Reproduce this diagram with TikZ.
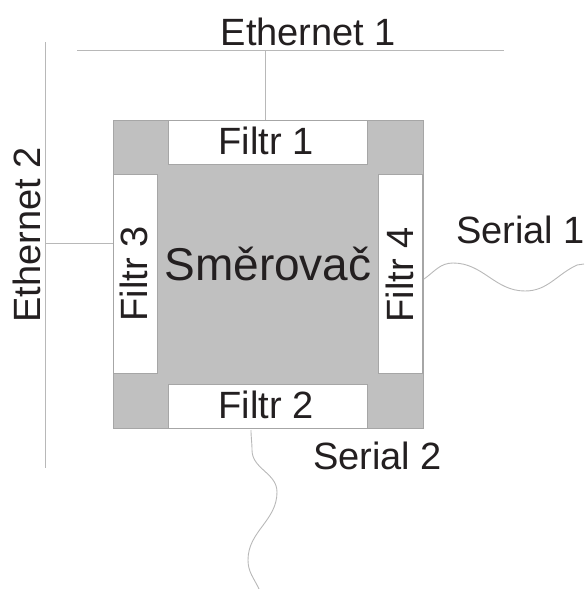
\documentclass[tikz,border=0pt]{standalone}
\usepackage{fontspec}
\setmainfont{Liberation Sans}
\definecolor{boxgray}{HTML}{C0C0C0}
\definecolor{edgegray}{HTML}{A6A6A6}
\definecolor{wiregray}{HTML}{B8B8B8}
\definecolor{ink}{HTML}{231F20}
\begin{document}
\begin{tikzpicture}[x=1pt,y=1pt,
  router/.style={draw=edgegray,line width=0.8pt,fill=boxgray,minimum width=310pt,minimum height=308pt,inner sep=0pt},
  filterh/.style={draw=edgegray,line width=0.6pt,fill=white,minimum width=199pt,minimum height=44pt,inner sep=0pt},
  filterv/.style={draw=edgegray,line width=0.6pt,fill=white,minimum width=44pt,minimum height=199pt,inner sep=0pt},
  lbl/.style={text=ink,font=\fontsize{38}{40}\selectfont,inner sep=0pt},
  wire/.style={draw=wiregray,line width=0.9pt}]
\useasboundingbox (0,0) rectangle (584,-589);
% router body and filters
\node[router] (r) at (268,-274) {};
\node[filterh] (f1) at (267.5,-142) {};
\node[filterh] (f2) at (267.5,-406) {};
\node[filterv] (f3) at (135,-273.5) {};
\node[filterv] (f4) at (400.5,-273.5) {};
% labels
\node[lbl,font=\fontsize{46}{48}\selectfont,anchor=base] (rl) at (268,-280) {Směrovač};
\node[lbl,anchor=base] (f1l) at (266,-154) {Filtr 1};
\node[lbl,anchor=base] (f2l) at (266,-418) {Filtr 2};
\node[lbl,anchor=base,rotate=90] (f3l) at (147,-274) {Filtr 3};
\node[lbl,anchor=base,rotate=90] (f4l) at (413,-275) {Filtr 4};
\node[lbl,anchor=base] (e1l) at (308.5,-45) {Ethernet 1};
\node[lbl,anchor=base,rotate=90] (e2l) at (40,-235) {Ethernet 2};
\node[lbl,anchor=base west] (s1l) at (456,-243) {Serial 1};
\node[lbl,anchor=base west] (s2l) at (313,-469) {Serial 2};
% Ethernet buses
\coordinate (e1a) at (77,-50);
\coordinate (e1b) at (504,-50);
\coordinate (e2a) at (45,-42);
\coordinate (e2b) at (45,-468);
\coordinate (e2t) at (45,-243);
\draw[wire] (e1a) -- (e1b);
\draw[wire] (e2a) -- (e2b);
\draw[wire] (f1.north -| 265,0) -- (265,-50);
\draw[wire] (e2t) -- (e2t -| f3.west);
% Serial lines
\coordinate (s1a) at (424,-279);
\coordinate (s1e) at (584,-264);
\draw[wire] (s1a) to[out=35,in=180] (453,-263) to[out=0,in=180] (525,-291)
  to[out=0,in=205] (577,-265) -- (s1e);
\coordinate (s2a) at (251,-430);
\coordinate (s2e) at (259,-589);
\draw[wire] (s2a) to[out=-90,in=90] (252,-450) to[out=-90,in=90] (277,-492)
  to[out=-90,in=90] (248,-560) to[out=-90,in=115] (s2e);
\end{tikzpicture}
\end{document}
